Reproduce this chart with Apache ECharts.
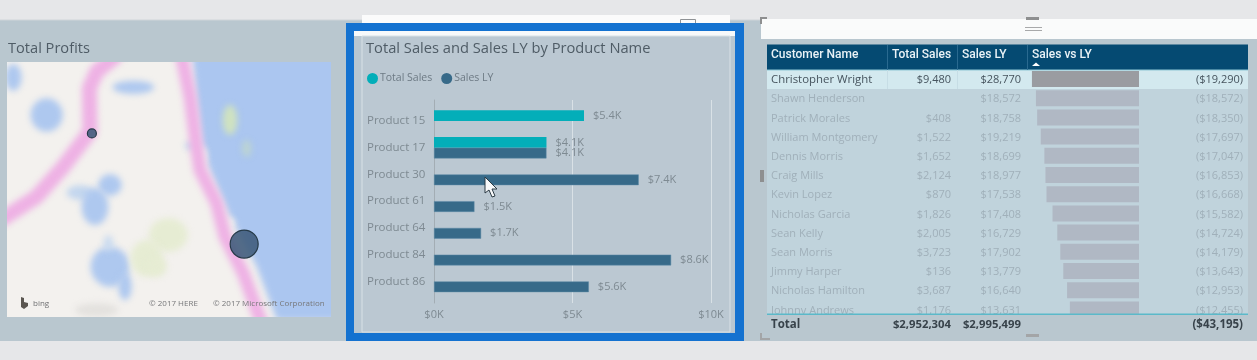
<!DOCTYPE html>
<html><head><meta charset="utf-8">
<style>html,body{margin:0;padding:0;background:#e6e7e9}#c{width:1257px;height:360px}</style>
<script src="https://cdn.jsdelivr.net/npm/echarts@6/dist/echarts.min.js"></script>
</head><body><div id="c"></div>
<script>
// --- bar chart data ---
const products = ['Product 15','Product 17','Product 30','Product 61','Product 64','Product 84','Product 86'];
const totalSales = [5415,4060,null,null,null,null,null];
const salesLY = [null,4060,7390,1460,1700,8560,5590];
const salesTicks = [0,5000,10000];
// --- table data ---
const customers = ['Christopher Wright','Shawn Henderson','Patrick Morales','William Montgomery','Dennis Morris','Craig Mills','Kevin Lopez','Nicholas Garcia','Sean Kelly','Sean Morris','Jimmy Harper','Nicholas Hamilton','Johnny Andrews'];
const custSales = ['$9,480','','$408','$1,522','$1,652','$2,124','$870','$1,826','$2,005','$3,723','$136','$3,687','$1,176'];
const custLY = ['$28,770','$18,572','$18,758','$19,219','$18,699','$18,977','$17,538','$17,408','$16,729','$17,902','$13,779','$16,640','$13,631'];
const custVs = [-19290,-18572,-18350,-17697,-17047,-16853,-16668,-15582,-14724,-14179,-13643,-12953,-12455];
const totals = ['Total','$2,952,304','$2,995,499','($43,195)'];
const headers = ['Customer Name','Total Sales','Sales LY','Sales vs LY'];
// --- map data ---
const profitPoints = [[26.2,72,9],[73.2,28.6,28]];

const FONT = '"Open Sans","Noto Sans",sans-serif';
const HFONT = 'Roboto,"Open Sans",sans-serif';
const money = v => '($' + Math.abs(v).toLocaleString('en-US') + ')';

function mapCanvas(){
  const c = document.createElement('canvas'); c.width = 324; c.height = 255;
  const x = c.getContext('2d');
  x.fillStyle = '#f3f1ee'; x.fillRect(0,0,324,255);
  const OX = 7, OY = 62, P = (a,b)=>[a/3-OX, b/3-OY];
  x.filter = 'blur(3px)';
  const poly = (pts,col)=>{x.fillStyle=col;x.beginPath();pts.forEach((p,i)=>{const q=P(p[0],p[1]);i?x.lineTo(q[0],q[1]):x.moveTo(q[0],q[1]);});x.closePath();x.fill();};
  const line = (pts,col,w)=>{x.strokeStyle=col;x.lineWidth=w;x.lineJoin='round';x.lineCap='round';x.beginPath();pts.forEach((p,i)=>{const q=P(p[0],p[1]);i?x.lineTo(q[0],q[1]):x.moveTo(q[0],q[1]);});x.stroke();};
  const ell = (a,b,rx,ry,col)=>{const q=P(a,b);x.fillStyle=col;x.beginPath();x.ellipse(q[0],q[1],rx/3,ry/3,0,0,7);x.fill();};
  const sea='#abc6f0', lake='#aec8ef', grn='#e6ecd3', grn2='#cfe2c0', pink='#eeb1e4';
  poly([[575,150],[590,300],[605,430],[630,510],[690,650],[770,800],[830,960],[1020,960],[1020,150]],sea);
  ell(40,232,25,40,lake); ell(140,345,48,50,lake); ell(400,262,62,20,lake);
  ell(330,555,35,32,lake); ell(240,578,40,22,'#c3d6ee'); ell(285,620,40,55,lake);
  ell(330,800,58,60,lake); ell(375,860,20,40,lake); ell(325,730,14,24,'#c8daf0');
  ell(505,705,58,50,grn); ell(440,775,48,55,grn); ell(470,800,30,30,grn);
  ell(690,360,22,45,grn2); ell(740,445,14,26,'#bcd4d2'); ell(570,437,16,12,'#c3d6ee');
  ell(290,930,65,20,'#e3e1de');
  ell(610,465,10,25,'#f3f1ee'); ell(690,668,14,14,'#f3f1ee');
  line([[345,170],[290,215],[268,265],[270,395],[190,500],[110,590],[10,655]],pink,15);
  line([[545,170],[570,290],[588,430],[600,510],[650,610],[675,710],[730,820],[785,970]],pink,13);
  return c;
}

const bg = (x,y,w,h,fill,z,extra)=>Object.assign({type:'rect',shape:{x,y,width:w,height:h},style:{fill},z:z===undefined?-10:z,silent:true},extra||{});
const gtext = (x,y,text,fill,size,align,weight,z,font)=>({type:'text',x,y,z:z===undefined?5:z,silent:true,style:{text,fill,font:(weight||'normal')+' '+size+'px '+(font||FONT),textAlign:align||'left',textVerticalAlign:'middle'}});

const COLX = {name:771,sales:951,ly:1021,vs:1243};
const graphics = [
  bg(0,20,1257,321,'#b9c7cf'),
  bg(0,19.5,1257,1,'#cfd5d9'),
  // map
  {type:'image',x:7,y:62,z:-9,silent:true,style:{image:mapCanvas(),width:324,height:255}},
  gtext(33,304,'bing','#6f7072',8,'left','normal',1),
  {type:'polygon',z:1,silent:true,shape:{points:[[21,297],[24,298],[24,302],[28,303],[28,306],[24,309],[21,307]]},style:{fill:'#5a5650'}},
  gtext(149,304,'© 2017 HERE','#77787a',8,'left','normal',1),
  gtext(213,304,'© 2017 Microsoft Corporation','#77787a',8,'left','normal',1),
  // middle visual
  bg(362,15,368,21,'#fbfbfb'),
  bg(680.5,19.5,15,12,'rgba(0,0,0,0)',-9,{style:{fill:'rgba(0,0,0,0)',stroke:'#8f9295',lineWidth:1}}),
  bg(346,23,398,318,'#1472d0',-8),
  bg(354,31,381,302,'#b9c7d1',-7),
  bg(354,31,381,5,'#f7f9fa',-6),
  bg(362,36,368,296,'#bbc8d2',-6,{style:{fill:'#bbc8d2',stroke:'#d8e1e6',lineWidth:1}}),
  // right visual
  bg(761,19,496,20,'#fafbfb'),
  bg(767,70,481,244,'#c0d3dc',-8),
  bg(767,70,481,19,'#d3e9ef',-7),
  bg(767,44.5,481,25.5,'#054a72',-6),
  bg(767,69.5,481,1,'#8fc7d6',-5),
  bg(887,45,1,25,'#2a6a90',-5), bg(957,45,1,25,'#2a6a90',-5), bg(1027,45,1,25,'#2a6a90',-5),
  bg(887,70,1,19,'#c6dde5',-5), bg(957,70,1,19,'#c6dde5',-5),
  gtext(COLX.name,55,headers[0],'#eaf2f6',12,'left','500',5,HFONT),
  gtext(892,55,headers[1],'#eaf2f6',12,'left','500',5,HFONT),
  gtext(962,55,headers[2],'#eaf2f6',12,'left','500',5,HFONT),
  gtext(1032,55,headers[3],'#eaf2f6',12,'left','500',5,HFONT),
  {type:'polygon',z:5,silent:true,shape:{points:[[1032,66],[1040,66],[1036,62.5]]},style:{fill:'#ffffff'}},
  // cover for the scrolled-off last row + total row
  bg(767,314,490,27,'#b9c7cf',50),
  bg(767,313.5,481,1.5,'#5bb9c9',51),
  gtext(COLX.name,325,totals[0],'#38434b',11.5,'left','bold',52),
  gtext(COLX.sales,325,totals[1],'#38434b',11.3,'right','bold',52),
  gtext(COLX.ly,325,totals[2],'#38434b',11.3,'right','bold',52),
  gtext(COLX.vs,325,totals[3],'#38434b',11.5,'right','bold',52),
  // handles
  bg(760,17,2,7,'#8e8f90',52), bg(760,17,7,2,'#8e8f90',52),
  bg(760,333,2,7,'#a3a5a7',52), bg(760,338,10,2,'#a3a5a7',52),
  bg(760,170,4,12,'#8e8f90',52),
  bg(1026,17,13,3,'#8e8f90',52),
  bg(1025,27,17,1,'#a8a9aa',52), bg(1025,30,17,1,'#a8a9aa',52),
  bg(1026,334,13,3,'#a3a5a7',52),
  // cursor
  {type:'polygon',z:60,silent:true,shape:{points:[[485,177],[485,193],[489,190],[492,197],[495,196],[492,189],[497,189]]},style:{fill:'#f8f9fa',stroke:'#2b3a44',lineWidth:1}}
];

const chart = echarts.init(document.getElementById('c'),null,{renderer:'canvas'});
chart.setOption({
  animation:false,
  backgroundColor:'#e6e7e9',
  textStyle:{fontFamily:FONT},
  title:[
    {text:'Total Profits',left:3,top:36,textStyle:{fontSize:14.6,fontWeight:'normal',color:'#4f5c66',fontFamily:FONT}},
    {text:'Total Sales and Sales LY by Product Name',left:361,top:36,textStyle:{fontSize:14.7,fontWeight:'normal',color:'#4f5c66',fontFamily:FONT}}
  ],
  legend:{left:362,top:68,icon:'circle',itemWidth:11,itemHeight:11,itemGap:9,data:['Total Sales','Sales LY'],
    itemStyle:{borderWidth:0},
    textStyle:{fontSize:10.5,color:'#6d7a84',fontFamily:FONT,padding:[0,0,0,-3]}},
  grid:[
    {left:434,top:100,width:277,height:203,show:false},       // gridlines + x ticks
    {left:434,top:107.6,width:277,height:187.2,show:false},   // bars
    {left:1028,top:69.4,width:111,height:249.6,show:false},   // table data bars
    {left:7,top:62,width:324,height:255,show:false}           // map bubbles
  ],
  xAxis:[
    {gridIndex:0,type:'value',min:salesTicks[0],max:salesTicks[2],interval:salesTicks[1],
      axisLine:{show:false},axisTick:{show:false},
      splitLine:{show:true,lineStyle:{color:'#d9e1e6',width:1}},
      axisLabel:{color:'#7e8a92',fontSize:11,margin:6,fontFamily:FONT,formatter:v=>'$'+(v/1000)+'K'}},
    {gridIndex:1,type:'value',min:0,max:10000,show:false},
    {gridIndex:2,type:'value',min:-20000,max:0,show:false},
    {gridIndex:3,type:'value',min:0,max:100,show:false}
  ],
  yAxis:[
    {gridIndex:0,type:'value',min:0,max:1,axisLabel:{show:false},axisTick:{show:false},splitLine:{show:false},
      axisLine:{show:true,lineStyle:{color:'#a3adb4',width:1}}},
    {gridIndex:1,type:'category',data:products,inverse:true,axisLine:{show:false},axisTick:{show:false},
      axisLabel:{color:'#7e8a92',fontSize:11.5,align:'left',margin:67,fontFamily:FONT}},
    {gridIndex:2,type:'category',data:customers,inverse:true,show:false},
    {gridIndex:3,type:'value',min:0,max:100,show:false}
  ],
  series:[
    {name:'Total Sales',type:'bar',xAxisIndex:1,yAxisIndex:1,data:totalSales,barWidth:10.7,barGap:'0%',
      itemStyle:{color:'#03aeb9'},
      label:{show:true,position:'right',distance:9,color:'#7e8a92',fontSize:11,fontFamily:FONT,formatter:p=>'$'+(p.value/1000).toFixed(1)+'K'}},
    {name:'Sales LY',type:'bar',xAxisIndex:1,yAxisIndex:1,data:salesLY,barWidth:10.7,barGap:'0%',
      itemStyle:{color:'#376a89',borderColor:'#5d8ba6',borderWidth:0.5},
      label:{show:true,position:'right',distance:9,color:'#7e8a92',fontSize:11,fontFamily:FONT,formatter:p=>'$'+(p.value/1000).toFixed(1)+'K'}},
    {name:'Sales vs LY',type:'bar',xAxisIndex:2,yAxisIndex:2,data:custVs.map((v,i)=>({value:v,itemStyle:{color:i===0?'#9a9ca1':'#b0b8c4'}})),barWidth:16,silent:true},
    {name:'TableText',type:'custom',xAxisIndex:2,yAxisIndex:2,clip:false,silent:true,z:3,
      data:customers.map((n,i)=>[0,i]),
      encode:{x:0,y:1},
      renderItem:(params,api)=>{
        const i = api.value(1), y = api.coord([0,i])[1]+1, sel = i===0, fill = sel?'#46545e':'#a0b0ba';
        const t = (x,text,align,size)=>({type:'text',x,y,style:{text,fill,font:(size||11)+'px '+FONT,textAlign:align,textVerticalAlign:'middle'}});
        return {type:'group',children:[
          t(COLX.name,customers[i],'left',sel?11.4:11),t(COLX.sales,custSales[i],'right'),t(COLX.ly,custLY[i],'right'),t(COLX.vs,money(custVs[i]),'right')
        ]};
      }},
    {name:'Total Profits',type:'scatter',xAxisIndex:3,yAxisIndex:3,data:profitPoints,symbolSize:d=>d[2],silent:true,
      itemStyle:{color:'rgba(62,90,122,0.88)',borderColor:'#263a48',borderWidth:1.2,opacity:1}}
  ],
  graphic:graphics
});
</script></body></html>
